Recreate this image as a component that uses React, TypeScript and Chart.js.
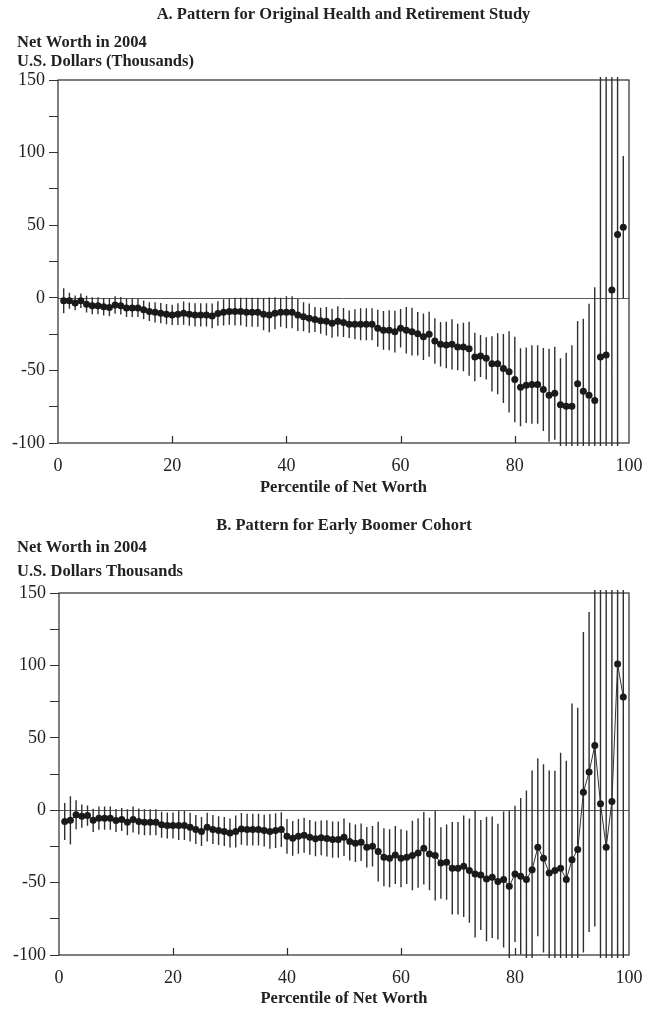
import React, { useEffect, useRef } from 'react';
import { Chart, registerables } from 'chart.js';

Chart.register(...registerables);

// ---------- data ----------
const PERCENTILES = [
  1, 2, 3, 4, 5, 6, 7, 8, 9, 10, 11, 12, 13, 14, 15, 16, 17, 18, 19, 20,
  21, 22, 23, 24, 25, 26, 27, 28, 29, 30, 31, 32, 33, 34, 35, 36, 37, 38, 39, 40,
  41, 42, 43, 44, 45, 46, 47, 48, 49, 50, 51, 52, 53, 54, 55, 56, 57, 58, 59, 60,
  61, 62, 63, 64, 65, 66, 67, 68, 69, 70, 71, 72, 73, 74, 75, 76, 77, 78, 79, 80,
  81, 82, 83, 84, 85, 86, 87, 88, 89, 90, 91, 92, 93, 94, 95, 96, 97, 98, 99,
];

// Panel A: Original HRS — point estimates (thousands of 2004 USD)
const HRS_VALUES = [
  -2, -2, -3.5, -2, -4.4, -5.5, -5.5, -6.2, -6.7, -5, -5.5, -7, -7, -7, -8.3, -9.5, -10, -10.6, -11.3, -11.8,
  -11.3, -10.6, -11.3, -11.8, -11.8, -11.8, -12.5, -10.8, -10, -9.5, -9.5, -9.5, -10, -10, -10, -11.3, -11.8, -10.6, -10, -10,
  -10, -11.8, -13, -14, -15, -15.8, -16.2, -17.5, -16.2, -17, -18.2, -18.2, -18.2, -18.2, -18.2, -21, -22.4, -22.4, -23.3, -21,
  -22.4, -23.3, -24.7, -26.8, -25.1, -29.8, -32, -32.5, -32, -33.9, -33.9, -35.1, -40.8, -40.1, -41.7, -45.5, -45.5, -48.7, -51, -56.3,
  -61.6, -60.2, -59.7, -59.7, -63.2, -67.1, -65.7, -73.6, -74.7, -74.7, -59.2, -64.4, -67.1, -70.8, -40.8, -39.4, 5.3, 43.6, 48.6,
];
// Panel A: half-width of the confidence interval
const HRS_ERRORS = [
  8.6, 5.5, 5, 5, 5.8, 5.8, 5.8, 6, 6, 6, 6, 6.3, 6.3, 6.3, 6.5, 6.5, 7, 7, 7, 7,
  7.5, 8, 8, 8, 8, 8, 8.5, 8.5, 9, 9, 9.5, 9.5, 10, 10, 10, 11, 12, 11, 10, 11,
  11, 11, 10, 10, 8.6, 9, 9.8, 10, 10.4, 10, 9.5, 10.4, 11, 11, 11, 12.7, 13.3, 13.8, 14.4, 13.3,
  16, 16.4, 15, 16, 15.5, 15.7, 15.3, 16, 17.3, 16, 16.7, 18.6, 16.7, 14.5, 14.5, 19, 21, 23.7, 28, 29.4,
  26.8, 26, 27, 27, 28.6, 32, 32, 32, 36.8, 42, 43.3, 50, 63, 78, 200, 200, 160, 150, 49,
];

// Panel B: Early Boomer cohort — point estimates
const EBB_VALUES = [
  -7.8, -7, -3.2, -4.1, -3.7, -7, -5.5, -5.5, -5.5, -7.1, -6.4, -8.3, -6.4, -7.8, -8.3, -8.3, -8.3, -10.1, -10.6, -10.6,
  -10.6, -10.6, -11.7, -13.4, -14.7, -11.7, -13.4, -14.1, -14.7, -15.7, -14.7, -12.9, -13.4, -13.4, -13.4, -14.1, -14.7, -14.1, -13.4, -18,
  -19.4, -18, -17.3, -18.7, -19.8, -19.1, -19.5, -20.3, -20.3, -18.7, -21.7, -22.8, -22.1, -25.6, -24.9, -28.6, -32.5, -33.2, -30.9, -33.2,
  -32.5, -31.3, -29.5, -26.3, -30.2, -31.3, -36.4, -35.9, -40.1, -40.1, -38.7, -41.7, -44, -44.7, -47.5, -46.3, -49.3, -47.9, -52.5, -44,
  -45.6, -47.9, -41.2, -25.6, -33.2, -43.3, -41.7, -40.1, -47.9, -34.3, -27.2, 12.4, 26.3, 44.7, 4.4, -25.6, 6, 100.9, 78.1,
];
// Panel B: half-width of the confidence interval
const EBB_ERRORS = [
  12.7, 16.7, 10, 8, 7, 8, 8, 8, 8, 8, 8, 9, 9, 9, 9, 9, 9, 9, 9, 9,
  10, 10, 10, 10, 10, 10, 10, 10, 10, 10, 11, 11, 11, 11, 11, 11, 12, 12, 12, 12,
  12, 12, 12, 12, 12, 12, 12.5, 12.5, 12.5, 13, 13, 13, 13, 14, 14, 20.7, 20, 20, 20, 20,
  18.4, 24, 24, 25, 25, 31, 24.7, 26, 32, 32, 35, 36, 44, 38, 43, 42, 40, 47, 52, 47,
  54, 61.5, 68.6, 61.5, 65, 70.7, 69, 79.7, 82, 108, 98, 110.6, 110.5, 125, 160, 180, 160, 210, 190,
];

const X_TICKS = [0, 20, 40, 60, 80, 100];
const X_INNER_TICKS = [20, 40, 60, 80];
const Y_LABELED_TICKS = [-100, -50, 0, 50, 100, 150];

const PANEL_A_TITLE = 'A. Pattern for Original Health and Retirement Study';
const PANEL_B_TITLE = 'B. Pattern for Early Boomer Cohort';
const Y_TITLE_1 = 'Net Worth in 2004';
const Y_TITLE_A2 = 'U.S. Dollars (Thousands)';
const Y_TITLE_B2 = 'U.S. Dollars Thousands';
const X_TITLE = 'Percentile of Net Worth';

const SERIF = '"Liberation Serif", "DejaVu Serif", serif';

type PanelProps = {
  width: number;
  height: number;
  values: number[];
  errors: number[];
  showLine: boolean;
  title: string;
  yTitle2: string;
  layout: {
    areaTop: number;
    areaBottom: number;
    areaLeft: number;
    areaRight: number;
    titleY: number;
    yTitle1Y: number;
    yTitle2Y: number;
    xTitleY: number;
  };
};

function Panel(props: PanelProps) {
  const ref = useRef<HTMLCanvasElement | null>(null);

  useEffect(() => {
    const canvas = ref.current;
    if (!canvas) return;
    const { width, height, values, errors, showLine, title, yTitle2, layout } = props;

    const decor = {
      id: 'decor',
      beforeDatasetsDraw(chart: any) {
        const { ctx, chartArea: a, scales } = chart;
        const xs = scales.x;
        const ys = scales.y;
        ctx.save();
        // zero reference line
        const y0 = Math.round(ys.getPixelForValue(0)) + 0.5;
        ctx.strokeStyle = '#5a5a5a';
        ctx.lineWidth = 1;
        ctx.beginPath();
        ctx.moveTo(a.left, y0);
        ctx.lineTo(a.right, y0);
        ctx.stroke();
        // error bars
        ctx.beginPath();
        ctx.rect(a.left, a.top - 3, a.right - a.left, a.bottom - a.top + 6);
        ctx.clip();
        ctx.strokeStyle = '#303030';
        ctx.lineWidth = 1.4;
        ctx.beginPath();
        PERCENTILES.forEach((p, i) => {
          const px = xs.getPixelForValue(p);
          const hi = ys.getPixelForValue(values[i] + errors[i]);
          const lo = ys.getPixelForValue(values[i] - errors[i]);
          ctx.moveTo(px, hi);
          ctx.lineTo(px, lo);
        });
        ctx.stroke();
        ctx.restore();
      },
      afterDraw(chart: any) {
        const { ctx, chartArea: a, scales } = chart;
        const xs = scales.x;
        ctx.save();
        // frame
        ctx.strokeStyle = '#2a2a2a';
        ctx.lineWidth = 1.2;
        ctx.strokeRect(a.left, a.top, a.right - a.left, a.bottom - a.top);
        // inward x ticks
        ctx.beginPath();
        X_INNER_TICKS.forEach((t) => {
          const px = Math.round(xs.getPixelForValue(t)) + 0.5;
          ctx.moveTo(px, a.bottom);
          ctx.lineTo(px, a.bottom - 7);
        });
        ctx.stroke();
        // texts
        ctx.fillStyle = '#222';
        ctx.textBaseline = 'middle';
        ctx.font = `bold 16.5px ${SERIF}`;
        ctx.textAlign = 'center';
        const cx = (a.left + a.right) / 2;
        ctx.fillText(title, cx, layout.titleY);
        ctx.fillText(X_TITLE, cx, layout.xTitleY);
        ctx.textAlign = 'left';
        ctx.fillText(Y_TITLE_1, 17, layout.yTitle1Y);
        ctx.fillText(yTitle2, 17, layout.yTitle2Y);
        ctx.restore();
      },
    };

    const chart = new Chart(canvas, {
      type: 'scatter',
      data: {
        datasets: [
          {
            data: PERCENTILES.map((p, i) => ({ x: p, y: values[i] })),
            showLine,
            borderColor: '#333',
            borderWidth: 1,
            pointRadius: 3.5,
            pointBackgroundColor: '#1a1a1a',
            pointBorderWidth: 0,
            pointHoverRadius: 3.5,
          },
        ],
      },
      options: {
        responsive: false,
        animation: false,
        devicePixelRatio: 1,
        events: [],
        layout: {
          padding: {
            left: 0,
            top: layout.areaTop,
            right: width - layout.areaRight,
            bottom: 0,
          },
        },
        plugins: {
          legend: { display: false },
          tooltip: { enabled: false },
          title: { display: false },
        },
        scales: {
          x: {
            type: 'linear',
            min: 0,
            max: 100,
            afterFit: (scale: any) => {
              scale.height = height - layout.areaBottom;
              scale.paddingLeft = 0;
              scale.paddingRight = 0;
            },
            afterBuildTicks: (scale: any) => {
              scale.ticks = X_TICKS.map((v) => ({ value: v }));
            },
            grid: { display: false, drawTicks: false },
            border: { display: false },
            ticks: {
              padding: 12,
              color: '#222',
              font: { family: SERIF, size: 18 },
              maxRotation: 0,
              autoSkip: false,
            },
          },
          y: {
            type: 'linear',
            min: -100,
            max: 150,
            afterFit: (scale: any) => {
              scale.width = layout.areaLeft;
              scale.paddingTop = 0;
              scale.paddingBottom = 0;
            },
            grid: {
              drawOnChartArea: false,
              drawTicks: true,
              tickLength: 9,
              color: '#333',
              lineWidth: 1,
            },
            border: { display: false },
            ticks: {
              stepSize: 25,
              autoSkip: false,
              padding: 4,
              color: '#222',
              font: { family: SERIF, size: 18 },
              callback: (v: any) => (Y_LABELED_TICKS.includes(Number(v)) ? String(v) : ''),
            },
          },
        },
      },
      plugins: [decor],
    } as any);

    return () => chart.destroy();
  }, []);

  return (
    <canvas
      ref={ref}
      width={props.width}
      height={props.height}
      style={{ display: 'block', width: props.width, height: props.height }}
    />
  );
}

export default function App() {
  return (
    <div style={{ position: 'absolute', left: 0, top: 0, width: 647, height: 1011, background: '#fff' }}>
      <Panel
        width={647}
        height={510}
        values={HRS_VALUES}
        errors={HRS_ERRORS}
        showLine={false}
        title={PANEL_A_TITLE}
        yTitle2={Y_TITLE_A2}
        layout={{
          areaTop: 80,
          areaBottom: 443,
          areaLeft: 58,
          areaRight: 629,
          titleY: 15,
          yTitle1Y: 43,
          yTitle2Y: 62,
          xTitleY: 488,
        }}
      />
      <Panel
        width={647}
        height={501}
        values={EBB_VALUES}
        errors={EBB_ERRORS}
        showLine={true}
        title={PANEL_B_TITLE}
        yTitle2={Y_TITLE_B2}
        layout={{
          areaTop: 83,
          areaBottom: 445,
          areaLeft: 59,
          areaRight: 629,
          titleY: 16,
          yTitle1Y: 38,
          yTitle2Y: 62,
          xTitleY: 489,
        }}
      />
    </div>
  );
}
